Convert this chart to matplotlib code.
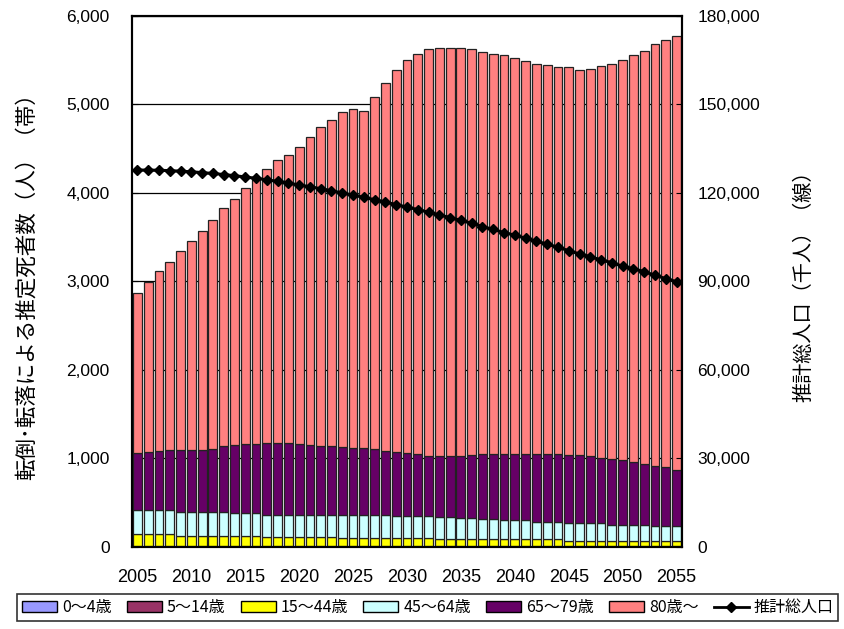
import matplotlib
matplotlib.use("Agg")
import matplotlib.pyplot as plt
from matplotlib.patches import Patch
from matplotlib.lines import Line2D
from matplotlib.ticker import FuncFormatter, MultipleLocator
import numpy as np

plt.rcParams['font.family'] = ['Liberation Sans', 'Noto Sans CJK JP', 'DejaVu Sans']

years = list(range(2005, 2056))

age0_4 = [6]*20 + [5]*16 + [4]*15
age5_14 = [4]*20 + [4]*16 + [3]*15
age15_44 = ([133]*4 + [114]*8 + [103]*7 + [90]*9 + [80]*12 + [65]*11)
age45_64 = ([271]*9 + [260]*3 + [252]*7 + [265]*5 + [254]*4 + [253]*2 +
            [241]*2 + [226]*2 + [215]*3 + [196]*3 + [196]*4 + [181]*4 + [170]*3)
age65_79 = [645, 656, 671, 682, 697, 701, 701, 716, 746, 769,
            780, 784, 814, 814, 814, 803, 791, 776, 776, 761,
            757, 750, 746, 720, 716, 704, 693, 678, 685, 685,
            697, 709, 731, 739, 750, 750, 750, 769, 769, 769,
            776, 776, 765, 742, 742, 731, 704, 689, 674, 659, 633]
age80 = [1811, 1924, 2030, 2128, 2257, 2362, 2475, 2580, 2686, 2779,
         2892, 2994, 3096, 3190, 3247, 3355, 3477, 3601, 3680, 3793,
         3824, 3815, 3970, 4161, 4323, 4445, 4529, 4595, 4614, 4614,
         4614, 4587, 4550, 4519, 4500, 4474, 4436, 4411, 4395, 4376,
         4384, 4346, 4372, 4422, 4468, 4520, 4599, 4667, 4765, 4832, 4904]
population = [127768, 127762, 127694, 127568, 127395, 127176, 126913, 126605, 126254, 125862,
              125430, 124961, 124456, 123915, 123341, 122735, 122097, 121430, 120735, 120015,
              119270, 118502, 117713, 116903, 116073, 115224, 114358, 113476, 112578, 111664,
              110679, 109730, 108580, 107700, 106550, 105695, 104640, 103620, 102710, 101590,
              100443, 99320, 98420, 97290, 96380, 95152, 94340, 93330, 92090, 90960, 89930]

series_names = ['0～4歳', '5～14歳', '15～44歳', '45～64歳', '65～79歳', '80歳～']
series_vals = [age0_4, age5_14, age15_44, age45_64, age65_79, age80]
colors = ['#9999FF', '#993366', '#FFFF00', '#CCFFFF', '#660066', '#FF8080']
line_name = '推計総人口'

fig = plt.figure(figsize=(8.44, 6.29), dpi=100)
ax = fig.add_axes([0.1564, 0.1304, 0.6516, 0.8442])
ax2 = ax.twinx()

bottom = np.zeros(len(years))
for name, vals, c in zip(series_names, series_vals, colors):
    v = np.array(vals, dtype=float)
    ax.bar(years, v, bottom=bottom, width=0.82, color=c, edgecolor='#222222',
           linewidth=0.9, zorder=2)
    bottom += v

ax2.plot(years, population, color='black', lw=2.2, marker='D', markersize=5.5, zorder=5)

ax.set_xlim(2004.5, 2055.5)
ax.set_ylim(0, 6000)
ax2.set_ylim(0, 180000)
ax.yaxis.set_major_locator(MultipleLocator(1000))
ax2.yaxis.set_major_locator(MultipleLocator(30000))
ax.set_xticks(list(range(2005, 2056, 5)))
fmt = FuncFormatter(lambda v, p: f'{int(v):,}')
ax.yaxis.set_major_formatter(fmt)
ax2.yaxis.set_major_formatter(fmt)

ax.set_axisbelow(True)
ax.grid(axis='y', color='black', lw=0.9, zorder=0)

for a in (ax, ax2):
    for s in a.spines.values():
        s.set_linewidth(1.5)
        s.set_color('black')

ax.tick_params(axis='y', direction='in', length=4, pad=16, labelsize=12.5)
ax2.tick_params(axis='y', direction='in', length=4, pad=11, labelsize=12.5)
ax.tick_params(axis='x', direction='in', length=0, pad=16, labelsize=13)

ax.set_ylabel('転倒･転落による推定死者数（人）（帯）', fontsize=15.5, labelpad=21,
              family=['Noto Sans CJK JP', 'DejaVu Sans'])
ax2.set_ylabel('推計総人口（千人）（線）', fontsize=14.5, labelpad=24,
               family=['Noto Sans CJK JP', 'DejaVu Sans'])

handles = [Patch(facecolor=c, edgecolor='black', linewidth=1) for c in colors]
handles.append(Line2D([0], [0], color='black', lw=2, marker='D', markersize=5))
labels = series_names + [line_name]
leg = fig.legend(handles, labels, loc='lower center', bbox_to_anchor=(0.507, 0.0),
                 ncol=7, frameon=True, fancybox=False, edgecolor='black',
                 handlelength=2.2, handletextpad=0.3, columnspacing=0.95,
                 borderpad=0.3, prop={'family': ['Noto Sans CJK JP', 'DejaVu Sans'], 'size': 11.5})
leg.get_frame().set_linewidth(1.2)

fig.savefig('out.png', dpi=100)
